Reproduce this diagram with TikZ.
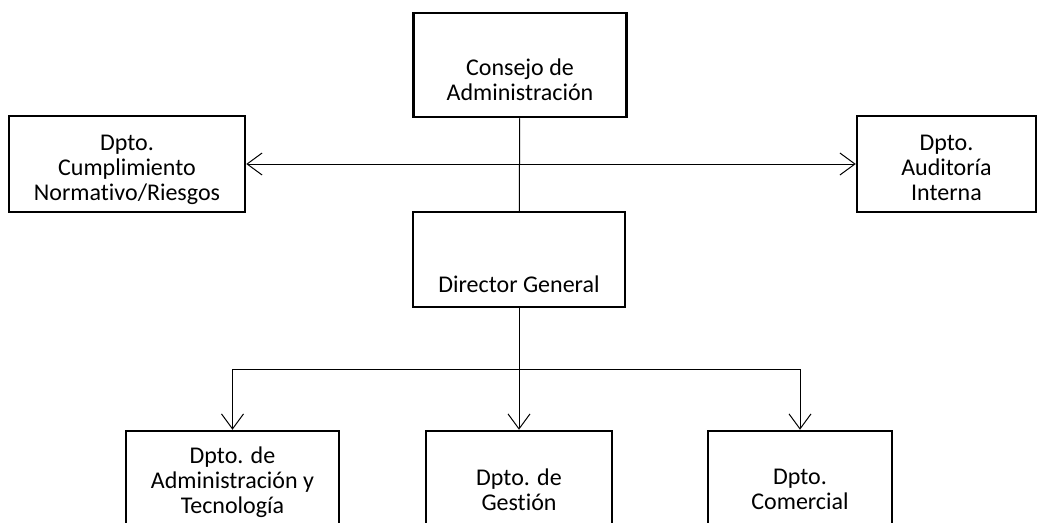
\documentclass[tikz,border=0pt]{standalone}
\usepackage{fontspec}
\setmainfont[Ligatures=NoCommon]{Carlito}
\usetikzlibrary{arrows.meta}

\begin{document}
\begin{tikzpicture}[x=1pt, y=-1pt,
  box/.style={draw, line width=2.5pt, inner sep=0pt},
  txt/.style={align=center, anchor=base, inner sep=0pt,
    font=\fontsize{24}{25}\selectfont},
  link/.style={line width=1pt},
  >={Straight Barb[length=15pt, width=22pt]}]
  \clip (0,0) rectangle (1038,522);

  % boxes
  \node[box, minimum width=213pt, minimum height=104pt] (consejo) at (520,65) {};
  \node[box, minimum width=236pt, minimum height=96pt] (cumplim) at (127,164) {};
  \node[box, minimum width=179pt, minimum height=96pt] (auditoria) at (946.5,164) {};
  \node[box, minimum width=212pt, minimum height=95pt] (director) at (519,259.5) {};
  \node[box, minimum width=213pt, minimum height=130pt] (admin) at (232.5,496) {};
  \node[box, minimum width=186pt, minimum height=130pt] (gestion) at (519,496) {};
  \node[box, minimum width=184pt, minimum height=130pt] (comercial) at (800,496) {};

  % texts (base = last line)
  \node[txt] (consejotxt) at (520,100) {Consejo de\\Administración};
  \node[txt] (cumplimtxt) at (127,200) {Dpto.\\Cumplimiento\\Normativo/Riesgos};
  \node[txt] (auditoriatxt) at (946.5,200) {Dpto.\\Auditoría\\Interna};
  \node[txt] (directortxt) at (519,292) {Director General};
  \node[txt] (admintxt) at (232.5,513) {Dpto. de\\Administración y\\Tecnología};
  \node[txt] (gestiontxt) at (519,510) {Dpto. de\\Gestión};
  \node[txt] (comercialtxt) at (800,509) {Dpto.\\Comercial};

  % connectors
  \coordinate (split) at (519,369);
  \draw[link, <->] (cumplim) -- (auditoria);
  \draw[link] (consejo) -- (director);
  \draw[link] (director) -- (split);
  \draw[link, ->] (split) -| (admin);
  \draw[link, ->] (split) -- (gestion);
  \draw[link, ->] (split) -| (comercial);
\end{tikzpicture}
\end{document}
